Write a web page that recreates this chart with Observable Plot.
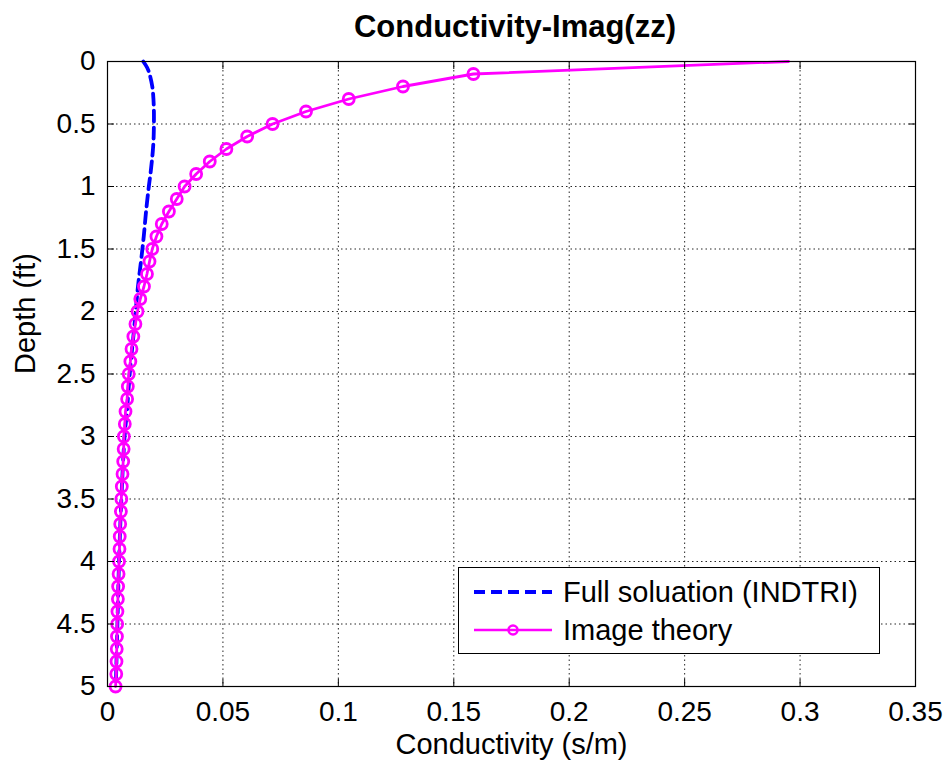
<!DOCTYPE html>
<html>
<head>
<meta charset="utf-8">
<script src="https://cdn.jsdelivr.net/npm/d3@7"></script>
<script src="https://cdn.jsdelivr.net/npm/@observablehq/plot@0.6"></script>
<style>
  html, body { margin: 0; padding: 0; background: #fff; }
  #wrap { position: relative; width: 951px; height: 770px; font-family: "Liberation Sans", Arial, sans-serif; }
  #title { position: absolute; left: 0; width: 1030px; top: 11px; line-height: 31px; text-align: center; font-weight: bold; font-size: 31px; color: #000; white-space: nowrap; }
  #legend { position: absolute; left: 458px; top: 567px; width: 422px; height: 87px; border: 1.5px solid #000; background: #fff; box-sizing: border-box; }
  .row { position: absolute; left: 0; height: 34px; display: flex; align-items: center; font-size: 29px; color: #000; white-space: nowrap; }
  .row svg { margin-left: 14px; margin-right: 10px; }
  #chart svg { display: block; }
</style>
</head>
<body>
<div id="wrap">
  <div id="chart"></div>
  <div id="title">Conductivity-Imag(zz)</div>
  <div id="legend"></div>
</div>
<script>
// Image theory series (depth in ft, conductivity in s/m)
const imageDepth = [0, 0.1, 0.2, 0.3, 0.4, 0.5, 0.6, 0.7, 0.8, 0.9, 1.0, 1.1, 1.2, 1.3, 1.4, 1.5, 1.6, 1.7, 1.8, 1.9, 2.0, 2.1, 2.2, 2.3, 2.4, 2.5, 2.6, 2.7, 2.8, 2.9, 3.0, 3.1, 3.2, 3.3, 3.4, 3.5, 3.6, 3.7, 3.8, 3.9, 4.0, 4.1, 4.2, 4.3, 4.4, 4.5, 4.6, 4.7, 4.8, 4.9, 5.0];
const imageCond = [0.295, 0.1585, 0.128, 0.1045, 0.086, 0.0715, 0.0605, 0.0515, 0.0443, 0.0384, 0.0334, 0.030, 0.0266, 0.0235, 0.0212, 0.0194, 0.0182, 0.0171, 0.0158, 0.0142, 0.013, 0.0121, 0.0112, 0.0104, 0.0099, 0.0092, 0.0088, 0.0085, 0.0078, 0.0075, 0.0071, 0.0070, 0.0068, 0.0065, 0.0062, 0.0060, 0.0058, 0.0055, 0.0053, 0.0052, 0.0050, 0.0048, 0.0046, 0.0045, 0.0043, 0.0042, 0.0041, 0.0040, 0.0039, 0.0038, 0.0035];
// Full solution (INDTRI)
const fullDepth = [0, 0.05, 0.1, 0.2, 0.3, 0.4, 0.5, 0.6, 0.7, 0.8, 0.9, 1.0, 1.2, 1.4, 1.6, 1.8, 2.0, 2.2, 2.4, 2.6, 2.8, 3.0, 3.5, 4.0, 4.5, 5.0];
const fullCond = [0.0155, 0.0172, 0.0182, 0.0194, 0.0199, 0.0201, 0.0201, 0.0200, 0.0197, 0.0192, 0.0186, 0.0179, 0.0167, 0.0157, 0.0145, 0.0132, 0.0122, 0.0112, 0.0101, 0.0092, 0.0084, 0.0074, 0.0060, 0.0050, 0.0043, 0.0036];
// Ticks
const xTicks = [0, 0.05, 0.1, 0.15, 0.2, 0.25, 0.3, 0.35];
const yTicks = [0, 0.5, 1, 1.5, 2, 2.5, 3, 3.5, 4, 4.5, 5];
const seriesNames = ["Full soluation (INDTRI)", "Image theory"];
const xLabel = "Conductivity (s/m)";
const yLabel = "Depth (ft)";

const imageData = imageDepth.map((d, i) => ({depth: d, cond: imageCond[i]}));
const markerData = imageData.filter(d => d.depth > 0);
const fullData = fullDepth.map((d, i) => ({depth: d, cond: fullCond[i]}));

const fmt = d => String(+d.toFixed(2));
const grid = {stroke: "#000", strokeOpacity: 0.85, strokeDasharray: "1.5,3", strokeWidth: 1};

const chart = Plot.plot({
  width: 951,
  height: 770,
  marginLeft: 107,
  marginRight: 36,
  marginTop: 61,
  marginBottom: 84,
  style: {fontFamily: "Liberation Sans, Arial, sans-serif", fontSize: "28px", color: "#000", background: "#fff"},
  x: {domain: [0, 0.35], ticks: xTicks},
  y: {domain: [0, 5], reverse: true, ticks: yTicks},
  marks: [
    Plot.gridX(xTicks, grid),
    Plot.gridY(yTicks, grid),
    Plot.line(fullData, {x: "cond", y: "depth", stroke: "#0000ff", strokeWidth: 3.8, strokeDasharray: "11,6", curve: "catmull-rom"}),
    Plot.line(imageData, {x: "cond", y: "depth", stroke: "#ff00ff", strokeWidth: 2.8}),
    Plot.dot(markerData, {x: "cond", y: "depth", r: 5.5, stroke: "#ff00ff", strokeWidth: 2.8, fill: "none"}),
    Plot.frame({stroke: "#000", strokeWidth: 1.2}),
    Plot.axisX(xTicks, {anchor: "bottom", tickSize: -7, tickPadding: 22, tickFormat: fmt, label: null, fontSize: 28}),
    Plot.axisX(xTicks, {anchor: "top", tickSize: -7, tickFormat: () => "", label: null}),
    Plot.axisY(yTicks, {anchor: "left", tickSize: -7, tickPadding: 19, tickFormat: fmt, label: null, fontSize: 28}),
    Plot.axisY(yTicks, {anchor: "right", tickSize: -7, tickFormat: () => "", label: null}),
    Plot.text([xLabel], {frameAnchor: "bottom", dy: 67, text: d => d, fontSize: 29}),
    Plot.text([yLabel], {frameAnchor: "left", dx: -82, rotate: -90, text: d => d, fontSize: 29})
  ]
});
document.getElementById("chart").appendChild(chart);

// Legend
const legend = document.getElementById("legend");
const rows = [
  {name: seriesNames[0], top: 7, svg: '<svg width="80" height="12"><line x1="1" y1="6" x2="79" y2="6" stroke="#0000ff" stroke-width="3.8" stroke-dasharray="11,6"/></svg>'},
  {name: seriesNames[1], top: 45, svg: '<svg width="80" height="14"><line x1="1" y1="7" x2="79" y2="7" stroke="#ff00ff" stroke-width="2.6"/><circle cx="40" cy="7" r="4.5" fill="none" stroke="#ff00ff" stroke-width="2.6"/></svg>'}
];
rows.forEach(r => {
  const div = document.createElement("div");
  div.className = "row";
  div.style.top = r.top + "px";
  div.innerHTML = r.svg + "<span>" + r.name + "</span>";
  legend.appendChild(div);
});
</script>
</body>
</html>
